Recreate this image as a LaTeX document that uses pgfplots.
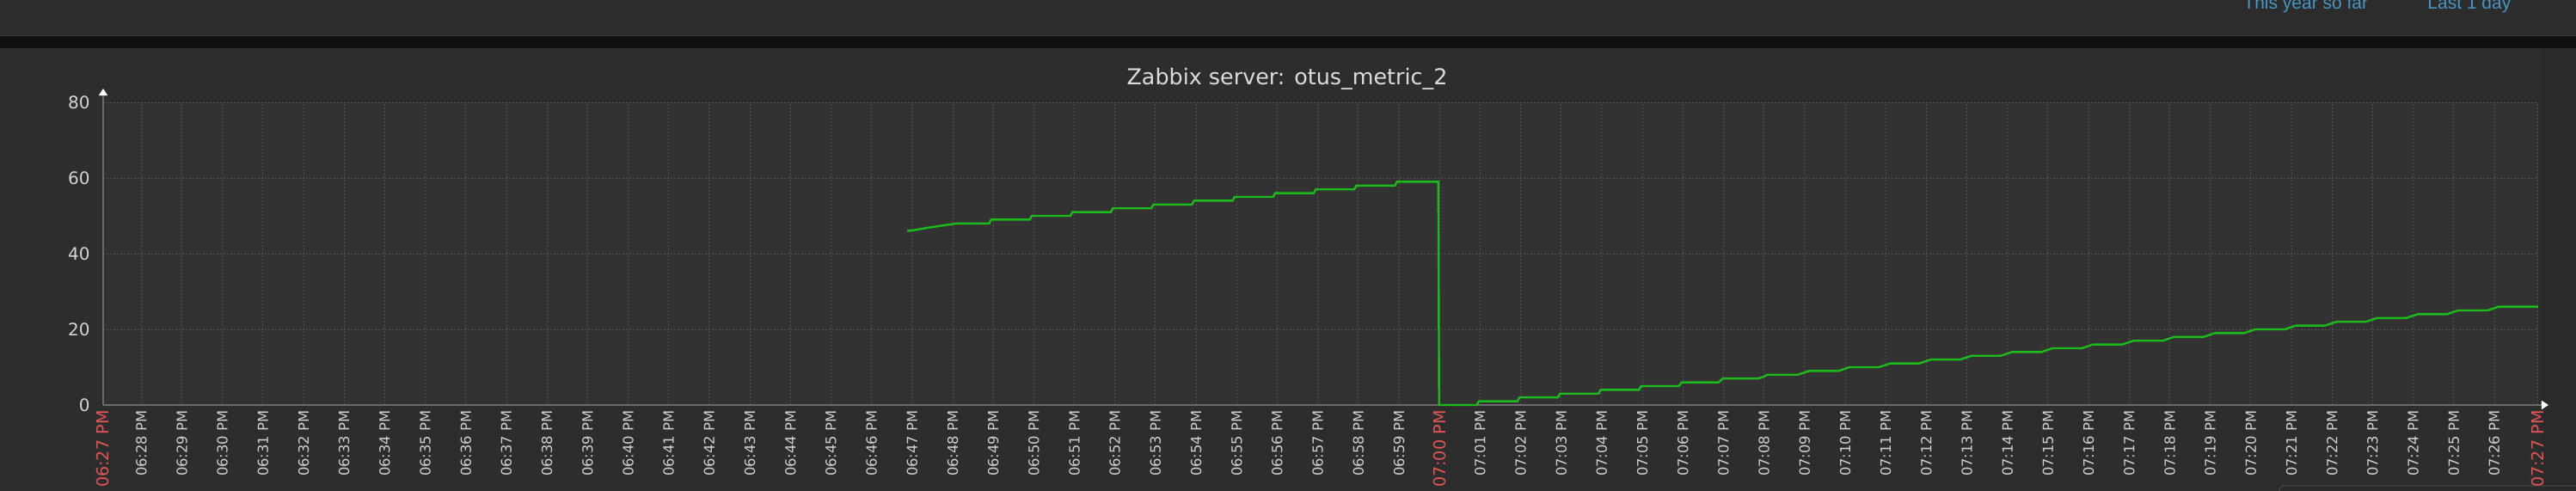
\documentclass[border=0pt]{standalone}
\usepackage{pgfplots}
\pgfplotsset{compat=1.18}
\usepackage{fontspec}
\setmainfont{DejaVu Sans}
\newfontfamily\linkfont{Liberation Sans}
\usetikzlibrary{arrows.meta}
\definecolor{pagebg}{HTML}{2A2A2A}
\definecolor{topbg}{HTML}{2C2C2C}
\definecolor{topline}{HTML}{3A3A3A}
\definecolor{band}{HTML}{0F1012}
\definecolor{graphbg}{HTML}{2D2D2D}
\definecolor{plotbg}{HTML}{323232}
\definecolor{gridc}{HTML}{525252}
\definecolor{axisc}{HTML}{6A6A6A}
\definecolor{tickc}{HTML}{CFCFCF}
\definecolor{ytickc}{HTML}{D4D4D4}
\definecolor{redc}{HTML}{E05555}
\definecolor{titlec}{HTML}{DCDCDC}
\definecolor{linkc}{HTML}{4796C4}
\definecolor{linec}{HTML}{1CBA1C}
\definecolor{boxline}{HTML}{474747}
\newcommand{\rl}[1]{\fontsize{9.6}{9.6}\selectfont\color{redc}#1}
\pgfplotstableread{
x y
19.88 46
20.10 46.3
20.35 46.8
20.60 47.2
20.85 47.6
21.10 48
21.90 48
21.95 49
22.90 49
22.95 50
23.90 50
23.95 51
24.90 51
24.95 52
25.90 52
25.95 53
26.90 53
26.95 54
27.90 54
27.95 55
28.90 55
28.95 56
29.90 56
29.95 57
30.90 57
30.95 58
31.90 58
31.95 59
32.97 59
32.99 0
33.92 0
33.97 1
34.92 1
34.97 2
35.92 2
35.97 3
36.92 3
36.97 4
37.92 4
37.97 5
38.90 5
38.97 6
39.88 6
39.98 7
40.85 7
41.00 7.5
41.08 8
41.83 8
41.97 8.5
42.11 9
42.83 9
42.97 9.5
43.11 10
43.83 10
43.97 10.5
44.11 11
44.83 11
44.97 11.5
45.11 12
45.83 12
45.97 12.5
46.11 13
46.83 13
46.97 13.5
47.11 14
47.83 14
47.97 14.5
48.11 15
48.83 15
48.97 15.5
49.11 16
49.83 16
49.97 16.5
50.11 17
50.83 17
50.97 17.5
51.11 18
51.83 18
51.97 18.5
52.11 19
52.83 19
52.97 19.5
53.11 20
53.83 20
53.97 20.5
54.11 21
54.83 21
54.97 21.5
55.11 22
55.83 22
55.97 22.5
56.11 23
56.83 23
56.97 23.5
57.11 24
57.83 24
57.97 24.5
58.11 25
58.83 25
58.97 25.5
59.11 26
60.08 26
}\metric
\begin{document}
\begin{tikzpicture}[x=1pt,y=1pt]
\useasboundingbox (0,0) rectangle (1498,285.5);
\fill[pagebg] (0,0) rectangle (1498,285.5);
\fill[topbg] (0,265) rectangle (1498,285.5);
\fill[band] (0,257.5) rectangle (1498,264.6);
\draw[topline, line width=0.5pt] (0,264.8) -- (1498,264.8);
\fill[graphbg] (0,0) rectangle (1477.5,257.5);
\node[anchor=base west, inner sep=0pt, text=linkc, font=\linkfont\fontsize{10.5}{10.5}\selectfont] at (1304.5,280) {This year so far};
\node[anchor=base west, inner sep=0pt, text=linkc, font=\linkfont\fontsize{10.5}{10.5}\selectfont] at (1411.5,280) {Last 1 day};
\node[anchor=base, inner sep=0pt, text=titlec, font=\fontsize{12.7}{12.7}\selectfont] at (748.5,236) {Zabbix server: otus\_metric\_2};
\draw[boxline, line width=0.6pt, rounded corners=3pt, fill=pagebg] (1325.5,-20) rectangle (1510,3);
\begin{axis}[
  at={(60pt,50pt)}, anchor=south west,
  scale only axis, width=1416pt, height=176pt,
  xmin=0.06, xmax=60.08, ymin=0, ymax=80,
  axis lines=left,
  x axis line style={draw=axisc, line width=0.75pt, -{Triangle[color=white, length=4pt, width=5pt]}, shorten >=-6pt},
  y axis line style={draw=axisc, line width=0.75pt, -{Triangle[color=white, length=4pt, width=5pt]}, shorten >=-8pt},
  axis background/.style={fill=plotbg},
  major tick length=0pt,
  grid=major,
  major grid style={draw=gridc, line width=0.5pt, dash pattern=on 1pt off 1pt},
  ytick={0,20,40,60,80},
  yticklabels={0,20,40,60,80},
  yticklabel style={anchor=east, inner sep=0pt, text=ytickc, font=\fontsize{10}{10}\selectfont},
  yticklabel shift=7.5pt,
  xtick={0.06,1,2,3,4,5,6,7,8,9,10,11,12,13,14,15,16,17,18,19,20,21,22,23,24,25,26,27,28,29,30,31,32,33,34,35,36,37,38,39,40,41,42,43,44,45,46,47,48,49,50,51,52,53,54,55,56,57,58,59,60.08},
  xticklabels={{\rl{06:27 PM}},06:28 PM,06:29 PM,06:30 PM,06:31 PM,06:32 PM,06:33 PM,06:34 PM,06:35 PM,06:36 PM,06:37 PM,06:38 PM,06:39 PM,06:40 PM,06:41 PM,06:42 PM,06:43 PM,06:44 PM,06:45 PM,06:46 PM,06:47 PM,06:48 PM,06:49 PM,06:50 PM,06:51 PM,06:52 PM,06:53 PM,06:54 PM,06:55 PM,06:56 PM,06:57 PM,06:58 PM,06:59 PM,{\rl{07:00 PM}},07:01 PM,07:02 PM,07:03 PM,07:04 PM,07:05 PM,07:06 PM,07:07 PM,07:08 PM,07:09 PM,07:10 PM,07:11 PM,07:12 PM,07:13 PM,07:14 PM,07:15 PM,07:16 PM,07:17 PM,07:18 PM,07:19 PM,07:20 PM,07:21 PM,07:22 PM,07:23 PM,07:24 PM,07:25 PM,07:26 PM,{\rl{07:27 PM}}},
  xticklabel style={rotate=90, anchor=east, inner sep=0pt, text=tickc, font=\fontsize{8.2}{8.2}\selectfont},
  xticklabel shift=3pt,
  clip=false,
]
\addplot[draw=linec, line width=1.2pt, mark=none] table[x=x, y=y] {\metric};
\end{axis}
\end{tikzpicture}
\end{document}
